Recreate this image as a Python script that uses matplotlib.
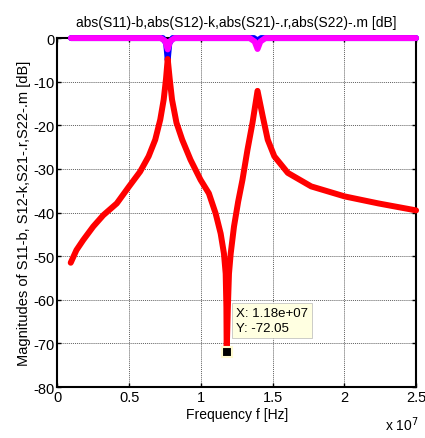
import matplotlib
matplotlib.use("Agg")
import matplotlib.pyplot as plt
from matplotlib.ticker import FixedLocator

plt.rcParams['font.family'] = ['Liberation Sans', 'DejaVu Sans']

# S21 / S12 transmission (dB), frequency in units of 1e7 Hz
f21 = [0.093, 0.133, 0.180, 0.250, 0.320, 0.414, 0.500, 0.577, 0.636, 0.682, 0.717,
       0.741, 0.757, 0.769, 0.783, 0.799, 0.830, 0.870, 0.928, 0.998, 1.056, 1.103,
       1.138, 1.161, 1.173, 1.178, 1.180, 1.188, 1.196, 1.208, 1.231, 1.260, 1.290,
       1.325, 1.360, 1.395, 1.431, 1.466, 1.512, 1.606, 1.769, 2.003, 2.237, 2.500]
s21 = [-51.5, -48.6, -46.3, -43.2, -40.6, -37.9, -34.0, -30.6, -27.1, -23.3, -18.7,
       -14.1, -9.4, -4.8, -9.4, -14.1, -19.4, -23.3, -27.9, -32.5, -35.6, -40.2,
       -44.8, -49.4, -54.0, -61.7, -72.05, -62.0, -54.0, -49.4, -43.2, -37.5, -32.5,
       -25.6, -19.4, -12.1, -17.9, -23.3, -27.1, -30.9, -34.0, -36.3, -37.9, -39.5]

# S11 reflection (dB)
f11 = [0.095, 0.735, 0.758, 0.769, 0.780, 0.803, 1.370, 1.395, 1.420, 2.500]
s11 = [0.0, 0.0, -1.2, -5.0, -1.2, 0.0, 0.0, -0.6, 0.0, 0.0]

# S22 reflection (dB)
f22 = [0.095, 0.720, 0.752, 0.769, 0.786, 0.818, 1.340, 1.375, 1.395, 1.415, 1.450, 2.500]
s22 = [0.0, 0.0, -0.7, -2.6, -0.7, 0.0, 0.0, -0.8, -2.5, -0.8, 0.0, 0.0]

tip_x, tip_y = 1.18, -72.05

xticks = [0, 0.5, 1, 1.5, 2, 2.5]
xticklabels = ['0', '0.5', '1', '1.5', '2', '2.5']
yticks = [0, -10, -20, -30, -40, -50, -60, -70, -80]
yticklabels = ['0', '-10', '-20', '-30', '-40', '-50', '-60', '-70', '-80']

fig = plt.figure(figsize=(4.25, 4.39), dpi=100)
ax = fig.add_axes([0.135, 0.116, 0.844, 0.795])

kw = dict(lw=4.3, solid_capstyle='round', solid_joinstyle='round', clip_on=False)
ax.plot(f11, s11, color='blue', zorder=3, **kw)
ax.plot(f21, s21, color='black', lw=2, zorder=3)
ax.plot(f21, s21, color='red', zorder=4, **kw)
ax.plot(f22, s22, color='magenta', zorder=5, **kw)

ax.plot([tip_x], [tip_y], marker='s', ms=7, mfc='black', mec='#fffbd0', mew=1.5, zorder=6, clip_on=False)
ax.annotate("X: 1.18e+07\nY: -72.05", xy=(tip_x, tip_y), xytext=(7, 23), textcoords='offset points',
            fontsize=9.5, va='center', ha='left', linespacing=1.35,
            bbox=dict(boxstyle='square,pad=0.3', fc='#ffffe1', ec='#b8b8b8', lw=0.5), zorder=7)

ax.set_xlim(0, 2.5)
ax.set_ylim(-80, 0)
ax.xaxis.set_major_locator(FixedLocator(xticks))
ax.set_xticklabels(xticklabels)
ax.yaxis.set_major_locator(FixedLocator(yticks))
ax.set_yticklabels(yticklabels)
ax.tick_params(direction='in', length=3, width=1, labelsize=10.5, top=True, right=True, pad=2)
ax.grid(True, color='#606060', lw=0.7, ls=(0, (1, 1)))
for s in ax.spines.values():
    s.set_linewidth(1.5)

ax.set_title("abs(S11)-b,abs(S12)-k,abs(S21)-.r,abs(S22)-.m [dB]", fontsize=10, pad=9)
ax.set_xlabel("Frequency f [Hz]", fontsize=10, labelpad=2)
ax.set_ylabel("Magnitudes of S11-b, S12-k,S21-.r,S22-.m [dB]", fontsize=10.5, labelpad=2)
fig.text(0.905, 0.012, r"x 10$^{7}$", fontsize=10, ha='left', va='bottom')

fig.savefig("out.png", dpi=100)
